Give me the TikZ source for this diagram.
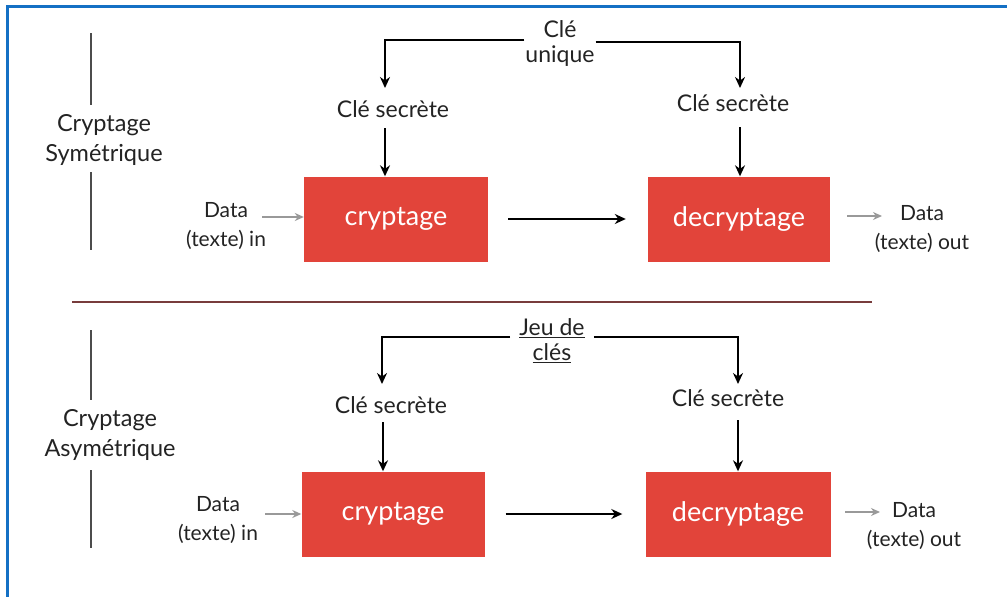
\documentclass[tikz,border=0pt]{standalone}
\usepackage{fontspec}
\setmainfont{Lato}
\usetikzlibrary{arrows.meta}
\definecolor{frameblue}{RGB}{20,112,196}
\definecolor{boxred}{RGB}{226,68,58}
\definecolor{sepline}{RGB}{120,60,60}
\definecolor{txt}{RGB}{35,35,35}
\begin{document}
\begin{tikzpicture}[x=1pt,y=-1pt,
  box/.style={fill=boxred,draw=none,minimum width=#1,minimum height=85pt,inner sep=0pt,
              text=white,font=\fontsize{27}{27}\selectfont},
  lbl/.style={text=txt,font=\fontsize{21}{29}\selectfont,align=center,inner sep=1pt},
  key/.style={text=txt,font=\fontsize{23}{25}\selectfont,align=center,inner sep=1pt},
  side/.style={text=txt,font=\fontsize{23.5}{30}\selectfont,align=center,inner sep=1pt},
  blk/.style={draw=black,line width=2.8pt,-{Stealth[length=11pt,width=10pt]}},
  gry/.style={draw=gray!80,line width=2pt,-{Stealth[length=9pt,width=8pt]}},
  vbar/.style={draw=gray!60!black,line width=2.4pt}]
\useasboundingbox (0,0) rectangle (1007,597);
% frame
\draw[frameblue,line width=3pt] (7,597) -- (7,6) -- (1007,6);

% ===== top: symmetric =====
\node[side] (sym) at (104,140) {Cryptage\\Symétrique};
\draw[vbar] (91,33) -- (91,105);
\draw[vbar] (91,172) -- (91,250);

\node[box=184pt] (c1) at (396,219) {cryptage};
\node[box=182pt] (d1) at (739,219) {decryptage};
\draw[blk] ([xshift=20pt]c1.east) -- ([xshift=-22pt]d1.west);

\node[lbl] (in1) at (226,226) {Data\\(texte) in};
\draw[gry] (262,217) -- (c1.west |- 0,217);
\node[lbl] (out1) at (922,229) {Data\\(texte) out};
\draw[gry] (847,216) -- (882,216);

\node[key] (cu) at (560,44) {Clé\\unique};
\node[key] (cs1) at (393,109) {Clé secrète};
\node[key] (cs2) at (733,103) {Clé secrète};
\coordinate (tl) at (385,40);
\coordinate (tr) at (740,42);
\draw[blk] (cu.west |- tl) -- (tl) -- (385,88);
\draw[blk] (cu.east |- tr) -- (tr) -- (740,88);
\draw[blk] (385,128) -- (c1.north -| 385,0);
\draw[blk] (740,127) -- (d1.north -| 740,0);

% separator
\draw[sepline,line width=2pt] (72,302) coordinate (s1) -- (872,302) coordinate (s2);

% ===== bottom: asymmetric =====
\node[side] (asym) at (110,435) {Cryptage\\Asymétrique};
\draw[vbar] (91,330) -- (91,400);
\draw[vbar] (91,470) -- (91,548);

\node[box=183pt] (c2) at (393,514) {cryptage};
\node[box=185pt] (d2) at (738,514) {decryptage};
\draw[blk] ([xshift=21pt]c2.east) -- ([xshift=-23pt]d2.west);

\node[lbl] (in2) at (218,520) {Data\\(texte) in};
\draw[gry] (265,514) -- (c2.west |- 0,514);
\node[lbl] (out2) at (914,526) {Data\\(texte) out};
\draw[gry] (845,512) -- (880,512);

\node[key] (jc) at (552,341) {\underline{Jeu de}\\\underline{clés}};
\node[key] (cs3) at (391,405) {Clé secrète};
\node[key] (cs4) at (728,398) {Clé secrète};
\coordinate (bl) at (382,337);
\coordinate (br) at (738,337);
\draw[blk] ([xshift=-8pt]jc.west |- bl) -- (bl) -- (382,384);
\draw[blk] ([xshift=8pt]jc.east |- br) -- (br) -- (738,384);
\draw[blk] (383,422) -- (c2.north -| 383,0);
\draw[blk] (738,420) -- (d2.north -| 738,0);
\end{tikzpicture}
\end{document}
